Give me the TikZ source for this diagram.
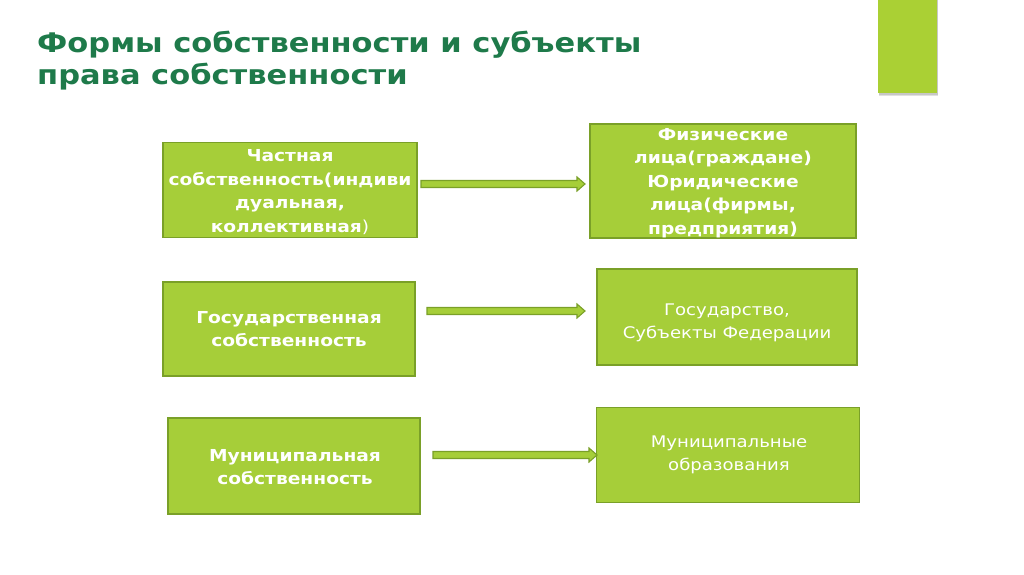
\documentclass[tikz,border=0pt]{standalone}
\usepackage{fontspec}
\setmainfont{DejaVu Sans}[FakeStretch=1.13]
\usetikzlibrary{calc}
\definecolor{titlegreen}{RGB}{30,122,74}
\definecolor{boxfill}{RGB}{166,206,57}
\definecolor{boxline}{RGB}{122,160,40}
\definecolor{rectgreen}{RGB}{170,208,52}
\tikzset{
  greenbox/.style={draw=boxline, line width=1.3pt, fill=boxfill, inner sep=0pt},
  boxtxt/.style={text=white, align=center, font=\bfseries\fontsize{16.5}{23.5}\selectfont},
  boxtxtlight/.style={text=white, align=center, font=\fontsize{16}{22.5}\selectfont},
  blockarrow/.style={draw=boxline, line width=1.1pt, fill=boxfill, line join=miter},
}
\newcommand{\blockarr}[2]{%
  \draw[blockarrow] ($(#1)+(0,3.5)$) -- ($(#2)+(-8,3.5)$) -- ($(#2)+(-8,7)$) -- (#2)
    -- ($(#2)+(-8,-7)$) -- ($(#2)+(-8,-3.5)$) -- ($(#1)+(0,-3.5)$) -- cycle;}
\begin{document}
\begin{tikzpicture}[x=1pt,y=-1pt]
\useasboundingbox (0,0) rectangle (1024,574);
% top-right decorative rectangle with soft shadow
\fill[black!12] (879,0) rectangle (938,96);
\fill[black!22] (879,0) rectangle (937.5,94.5);
\fill[rectgreen] (878,0) rectangle (937,93);
% title
\node[anchor=base west, inner sep=0pt, text=titlegreen, align=left,
      font=\bfseries\fontsize{27}{31.5}\selectfont] (title) at (37,84)
  {Формы собственности и субъекты\\права собственности};
% boxes
\node[greenbox, minimum width=254, minimum height=95] (b1) at (290,190) {};
\node[greenbox, minimum width=266, minimum height=114] (b2) at (723,181) {};
\node[greenbox, minimum width=252, minimum height=94] (b3) at (289,329) {};
\node[greenbox, minimum width=260, minimum height=96] (b4) at (727,317) {};
\node[greenbox, minimum width=252, minimum height=96] (b5) at (294,466) {};
\node[greenbox, minimum width=263, minimum height=95] (b6) at (728,455) {};
% texts
\node[boxtxt] (t1) at (290,192) {Частная\\собственность(индиви\\дуальная,\\коллективная\mdseries)};
\node[boxtxt] (t2) at (723,183) {Физические\\лица(граждане)\\Юридические\\лица(фирмы,\\предприятия)};
\node[boxtxt] (t3) at (289,329) {Государственная\\собственность};
\node[boxtxtlight] (t4) at (727,323) {Государство,\\Субъекты Федерации};
\node[boxtxt] (t5) at (295,467) {Муниципальная\\собственность};
\node[boxtxtlight] (t6) at (729,455) {Муниципальные\\образования};
% arrows
\coordinate (s1) at (421,184); \coordinate (e1) at (585,184);
\coordinate (s2) at (427,311); \coordinate (e2) at (585,311);
\coordinate (s3) at (433,455); \coordinate (e3) at (597,455);
\blockarr{s1}{e1}
\blockarr{s2}{e2}
\blockarr{s3}{e3}
\end{tikzpicture}
\end{document}
